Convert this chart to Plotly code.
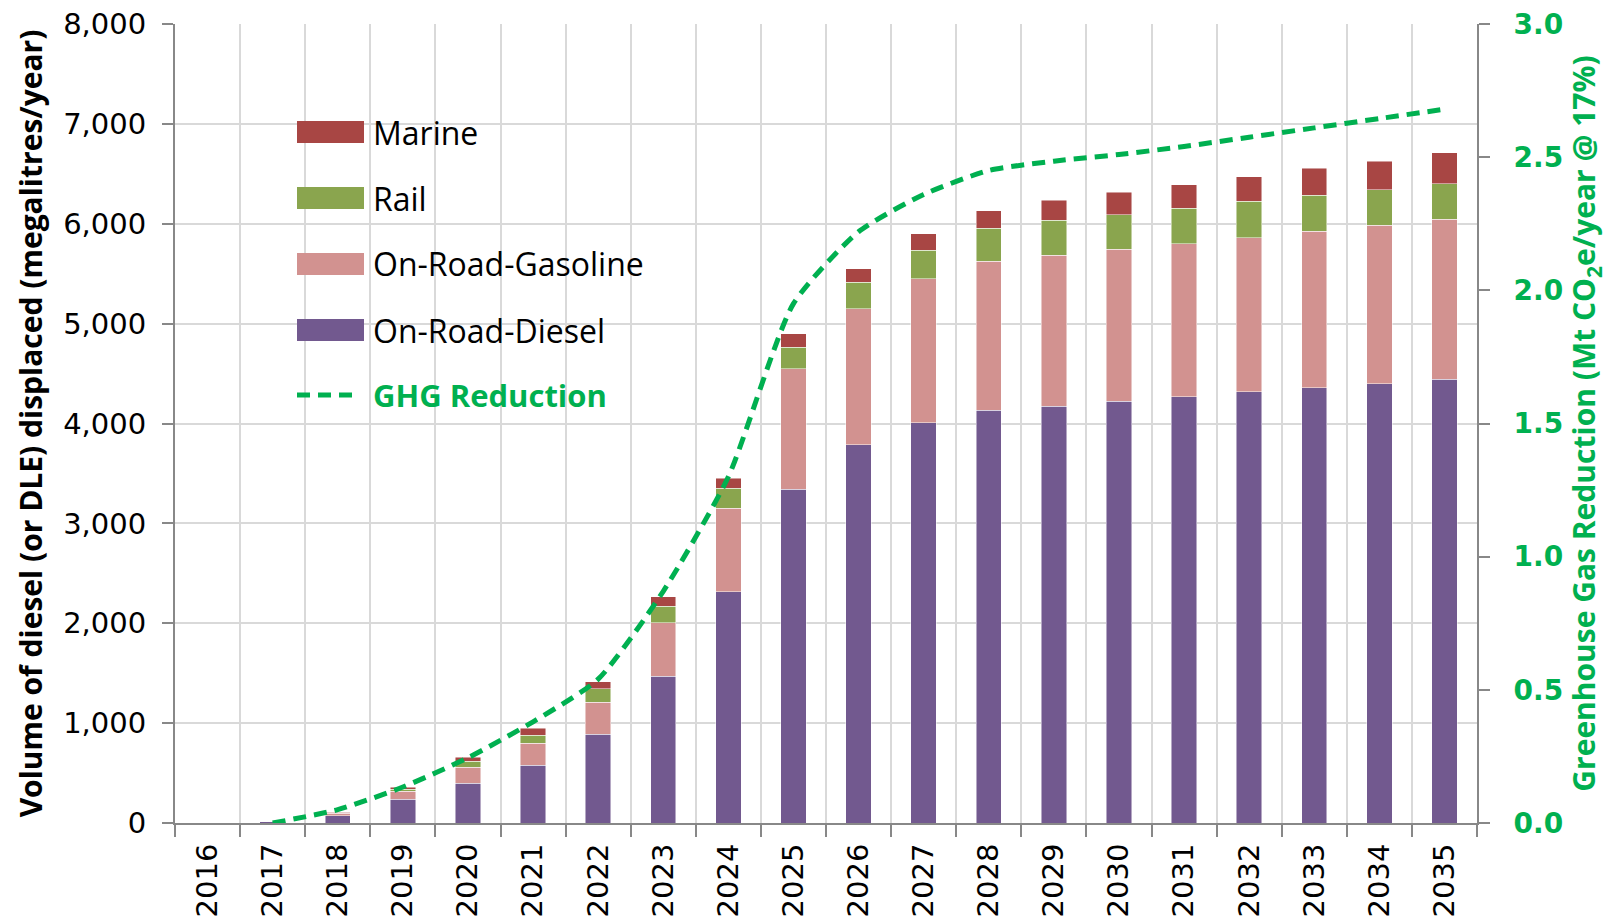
import plotly.graph_objects as go

# Data
years = [str(y) for y in range(2016, 2036)]
diesel = [0, 12, 75, 240, 400, 580, 890, 1470, 2315, 3340, 3785, 4010, 4135, 4175, 4225, 4270, 4320, 4360, 4400, 4445]
gasoline = [0, 4, 25, 80, 160, 220, 320, 535, 835, 1210, 1365, 1440, 1490, 1510, 1520, 1530, 1540, 1565, 1585, 1600]
rail = [0, 2, 5, 20, 60, 80, 135, 165, 200, 215, 265, 285, 330, 350, 345, 355, 365, 360, 355, 355]
marine = [0, 2, 5, 20, 40, 70, 70, 95, 100, 135, 135, 165, 175, 200, 225, 235, 245, 270, 285, 310]
ghg = [None, 0.0, 0.05, 0.135, 0.245, 0.38, 0.54, 0.87, 1.30, 1.95, 2.22, 2.36, 2.45, 2.485, 2.51, 2.54, 2.575, 2.61, 2.645, 2.68]

left_ticks = [0, 1000, 2000, 3000, 4000, 5000, 6000, 7000, 8000]
right_ticks = [0, 0.5, 1.0, 1.5, 2.0, 2.5, 3.0]

c_diesel = '#72598F'
c_gas = '#D29290'
c_rail = '#8AA54E'
c_marine = '#A84644'
c_green = '#00B050'

# the page body adds an 8px margin, so the figure is sized to fit inside it
OFF = 8
W, H = 1619 - OFF, 922 - OFF
L, R, T, B = 167, 142, 16, 99

fig = go.Figure()
for name, vals, col in [('On-Road-Diesel', diesel, c_diesel),
                        ('On-Road-Gasoline', gasoline, c_gas),
                        ('Rail', rail, c_rail),
                        ('Marine', marine, c_marine)]:
    fig.add_trace(go.Bar(x=years, y=vals, name=name, marker_color=col,
                         marker_line=dict(color='rgba(255,255,255,0.6)', width=0.8),
                         showlegend=False))

fig.add_trace(go.Scatter(x=years, y=ghg, name='GHG Reduction', yaxis='y2', mode='lines',
                         line=dict(color=c_green, width=5, dash='13px,8px', shape='spline', smoothing=0.6),
                         showlegend=False))

fig.update_layout(
    width=W, height=H,
    margin=dict(l=L, r=R, t=T, b=B),
    paper_bgcolor='white', plot_bgcolor='white',
    barmode='stack', bargap=0.61,
    font=dict(family='DejaVu Sans', color='black'),
    xaxis=dict(type='category', range=[-0.5, 19.5], tickson='boundaries', automargin=False,
               showgrid=True, gridcolor='#D9D9D9', gridwidth=1.5,
               showline=True, linecolor='#888888', linewidth=2,
               ticks='outside', ticklen=12, tickcolor='#888888', tickwidth=2,
               tickangle=-90, tickfont=dict(size=29, family='DejaVu Sans'),
               ticklabelstandoff=7, ticklabeloverflow='allow'),
    yaxis=dict(range=[0, 8000], tickvals=left_ticks, tickformat=',d', automargin=False,
               showgrid=True, gridcolor='#D9D9D9', gridwidth=1.5,
               showline=True, linecolor='#888888', linewidth=2,
               ticks='outside', ticklen=11, tickcolor='#888888', tickwidth=2,
               tickfont=dict(size=29, family='DejaVu Sans'), ticklabelstandoff=10,
               ticklabeloverflow='allow', zeroline=False,
               title=dict(text='Volume of diesel (or DLE) displaced (megalitres/year)',
                          font=dict(size=30, family='Open Sans', weight='bold'),
                          standoff=12)),
    yaxis2=dict(range=[0, 3], tickvals=right_ticks, tickformat='.1f', overlaying='y', side='right',
                automargin=False, showgrid=False, zeroline=False,
                showline=True, linecolor='#888888', linewidth=2,
                ticks='outside', ticklen=11, tickcolor='#888888', tickwidth=2,
                tickfont=dict(size=28, family='DejaVu Sans', color=c_green, weight='bold'),
                ticklabelstandoff=18, ticklabeloverflow='allow',
                title=dict(text='Greenhouse Gas Reduction (Mt CO<sub>2</sub>e/year @ 17%)',
                           font=dict(size=30, family='Open Sans', color=c_green, weight='bold'),
                           standoff=12)),
)

# legend drawn in paper coordinates (positions given in page pixels)
pw, ph = W - L - R, H - T - B
def px_x(x):
    return (x - OFF - L) / pw
def px_y(y):
    return (H + OFF - B - y) / ph

legend_items = [('Marine', c_marine), ('Rail', c_rail), ('On-Road-Gasoline', c_gas), ('On-Road-Diesel', c_diesel)]
rows = [132, 198, 264, 330]
for (label, col), yc in zip(legend_items, rows):
    fig.add_shape(type='rect', xref='paper', yref='paper',
                  x0=px_x(297), x1=px_x(364), y0=px_y(yc + 11), y1=px_y(yc - 11),
                  fillcolor=col, line_width=0)
    fig.add_annotation(x=px_x(371), y=px_y(yc), xref='paper', yref='paper', text=label,
                       showarrow=False, xanchor='left', yanchor='middle',
                       font=dict(size=32, family='Open Sans', color='black'))
fig.add_shape(type='line', xref='paper', yref='paper',
              x0=px_x(297), x1=px_x(360), y0=px_y(395), y1=px_y(395),
              line=dict(color=c_green, width=5, dash='13px,8px'))
fig.add_annotation(x=px_x(371), y=px_y(395), xref='paper', yref='paper', text='<b>GHG Reduction</b>',
                   showarrow=False, xanchor='left', yanchor='middle',
                   font=dict(size=31, family='Open Sans', color=c_green))

fig.write_html("out.html")
